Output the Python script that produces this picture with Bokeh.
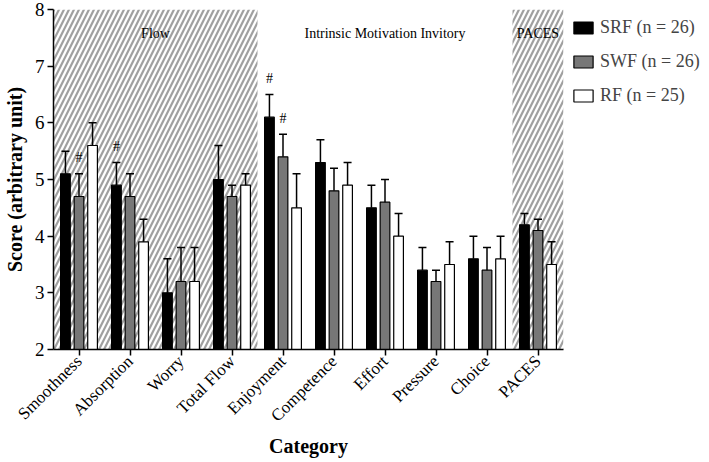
import numpy as np
from math import pi
from bokeh.plotting import figure
from bokeh.models import (ColumnDataSource, Whisker, TeeHead, Legend, LegendItem,
                          FixedTicker, Range1d)
from bokeh.core.properties import value
from bokeh.embed import file_html
from bokeh.resources import INLINE

categories = ["Smoothness", "Absorption", "Worry", "Total Flow", "Enjoyment",
              "Competence", "Effort", "Pressure", "Choice", "PACES"]
groups = ["SRF (n = 26)", "SWF (n = 26)", "RF (n = 25)"]
srf_mean = [5.1, 4.9, 3.0, 5.0, 6.1, 5.3, 4.5, 3.4, 3.6, 4.2]
srf_sd = [0.4, 0.4, 0.6, 0.6, 0.4, 0.4, 0.4, 0.4, 0.4, 0.2]
swf_mean = [4.7, 4.7, 3.2, 4.7, 5.4, 4.8, 4.6, 3.2, 3.4, 4.1]
swf_sd = [0.4, 0.4, 0.6, 0.2, 0.4, 0.4, 0.4, 0.2, 0.4, 0.2]
rf_mean = [5.6, 3.9, 3.2, 4.9, 4.5, 4.9, 4.0, 3.5, 3.6, 3.5]
rf_sd = [0.4, 0.4, 0.6, 0.2, 0.6, 0.4, 0.4, 0.4, 0.4, 0.4]
sections = ["Flow", "Intrinsic Motivation Invitory", "PACES"]
section_sizes = [4, 5, 1]
section_hatched = [True, False, True]
sig_category = ["Smoothness", "Absorption", "Enjoyment", "Enjoyment"]
sig_group = [1, 0, 0, 1]
y_ticks = [2, 3, 4, 5, 6, 7, 8]

FONT = "Liberation Serif"
colors = ["#000000", "#777777", "#ffffff"]
offsets = [-0.266, 0.0, 0.266]
bar_w = 0.19
ymin, ymax = y_ticks[0], y_ticks[-1]
n = len(categories)

p = figure(frame_width=510, frame_height=340,
           x_range=Range1d(-0.5, n - 0.5), y_range=Range1d(ymin, ymax),
           output_backend="svg", toolbar_location=None,
           min_border_top=9, min_border_left=2, min_border_right=0,
           min_border_bottom=0)
p.background_fill_color = "white"
p.outline_line_color = None
p.xgrid.visible = False
p.ygrid.visible = False

# hatched section backgrounds
bounds = np.cumsum([0] + section_sizes) - 0.5
hl = [bounds[i] for i in range(len(sections)) if section_hatched[i]]
hr = [bounds[i + 1] for i in range(len(sections)) if section_hatched[i]]
p.quad(left=hl, right=hr, bottom=ymin, top=ymax, fill_alpha=0, line_alpha=0,
       hatch_pattern="/", hatch_color="#a0a0a0", hatch_scale=10, hatch_weight=2.2,
       level="underlay")

# section labels
centers = [(bounds[i] + bounds[i + 1]) / 2 for i in range(len(sections))]
p.text(x=centers, y=[ymax] * len(sections), text=sections, y_offset=24,
       text_font=value(FONT), text_font_size="14px", text_align="center",
       text_baseline="middle", text_color="black")

means = [srf_mean, swf_mean, rf_mean]
sds = [srf_sd, swf_sd, rf_sd]
renderers = []
uppers = []
for gi in range(3):
    xs = np.arange(n) + offsets[gi]
    up = [m + s for m, s in zip(means[gi], sds[gi])]
    uppers.append(up)
    src = ColumnDataSource(dict(x=xs, top=means[gi], upper=up))
    r = p.vbar(x="x", top="top", bottom=ymin, width=bar_w, source=src,
               fill_color=colors[gi], line_color="black", line_width=1.2)
    renderers.append(r)
    w = Whisker(source=src, base="x", lower="top", upper="upper",
                line_color="black", line_width=1.5, level="annotation",
                upper_head=TeeHead(size=8, line_width=1.5, line_color="black"),
                lower_head=None)
    p.add_layout(w)

# significance marks
sx = [categories.index(c) + offsets[g] for c, g in zip(sig_category, sig_group)]
sy = [uppers[g][categories.index(c)] for c, g in zip(sig_category, sig_group)]
p.text(x=sx, y=sy, text=["#"] * len(sx), y_offset=-16,
       text_font=value(FONT), text_font_size="14px", text_align="center",
       text_baseline="middle", text_color="black")

# axes
p.xaxis.ticker = FixedTicker(ticks=list(range(n)))
p.xaxis.major_label_overrides = {i: c for i, c in enumerate(categories)}
p.xaxis.major_label_orientation = pi / 4
p.xaxis.axis_label = "Category"
p.yaxis.ticker = FixedTicker(ticks=y_ticks)
p.yaxis.axis_label = "Score (arbitrary unit)"
for ax in (p.xaxis, p.yaxis):
    ax.axis_line_color = "black"
    ax.axis_line_width = 1.5
    ax.major_tick_line_color = "black"
    ax.major_tick_line_width = 1.5
    ax.major_tick_in = 0
    ax.major_tick_out = 6
    ax.minor_tick_line_color = None
    ax.major_label_text_font = FONT
    ax.major_label_text_color = "black"
    ax.axis_label_text_font = FONT
    ax.axis_label_text_font_style = "bold"
    ax.axis_label_text_color = "black"
    ax.axis_label_text_font_size = "20px"
p.yaxis.major_label_text_font_size = "19px"
p.xaxis.major_label_text_font_size = "17px"
p.yaxis.major_label_standoff = 3
p.yaxis.axis_label_standoff = 6
p.xaxis.major_label_standoff = 3
p.xaxis.axis_label_standoff = 0

legend = Legend(items=[LegendItem(label=g, renderers=[r]) for g, r in zip(groups, renderers)],
                location="top_left", glyph_width=24, glyph_height=15,
                label_text_font=FONT, label_text_font_size="18px",
                label_height=20, spacing=13, padding=0, margin=8,
                border_line_color=None, background_fill_alpha=0)
p.add_layout(legend, "right")

open("out.html", "w").write(file_html(p, INLINE))
